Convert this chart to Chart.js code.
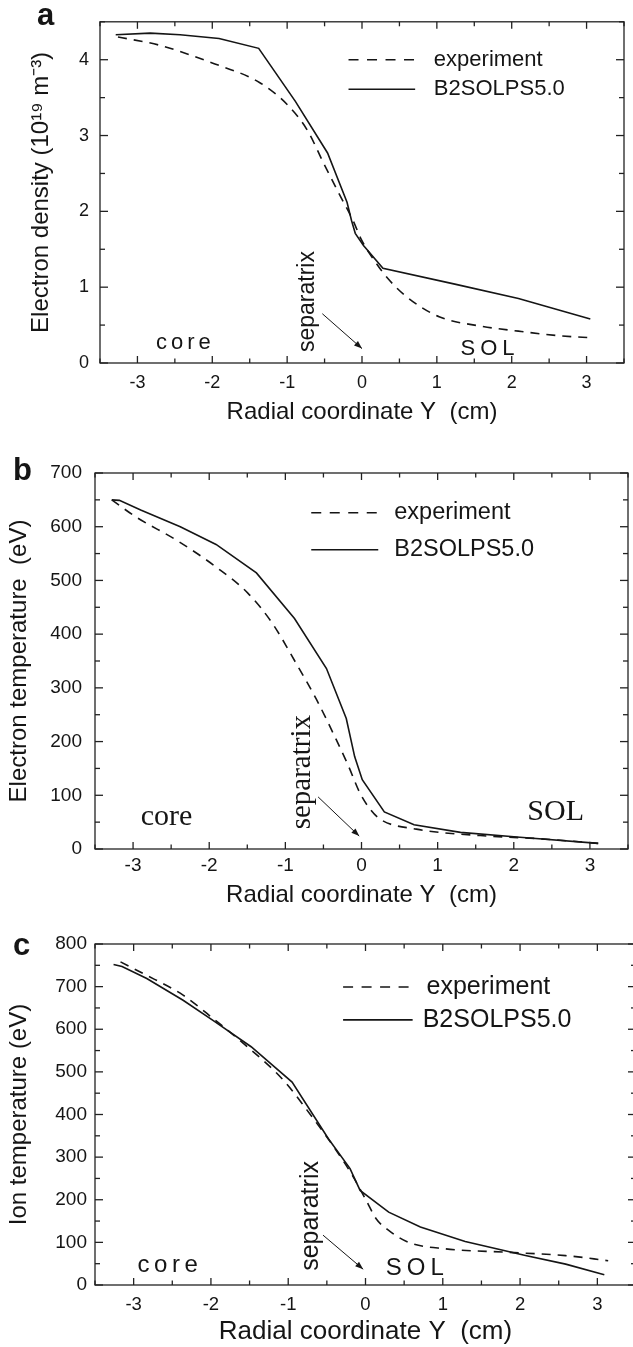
<!DOCTYPE html>
<html><head><meta charset="utf-8">
<script src="https://cdn.jsdelivr.net/npm/chart.js@4.4.1/dist/chart.umd.min.js"></script>
<style>
html,body{margin:0;padding:0;background:#fff;overflow:hidden;width:633px;height:1347px;position:relative;}
canvas{position:absolute;left:0;}
</style></head><body>
<canvas id="ca" width="633" height="450" style="top:0px"></canvas>
<canvas id="cb" width="633" height="480" style="top:440px"></canvas>
<canvas id="cc" width="645" height="427" style="top:920px"></canvas>
<script>
// ---------- data ----------
const xTickLabels = [-3, -2, -1, 0, 1, 2, 3];
const aYTickLabels = [0, 1, 2, 3, 4];
const bYTickLabels = [0, 100, 200, 300, 400, 500, 600, 700];
const cYTickLabels = [0, 100, 200, 300, 400, 500, 600, 700, 800];
const seriesNames = ['experiment', 'B2SOLPS5.0'];

// (a) electron density, 10^19 m^-3
const aExpX = [-3.26, -2.70, -2.01, -1.37, -1.00, -0.73, -0.52, -0.30, -0.12, -0.01, 0.18, 0.34, 0.60, 1.03, 1.56, 2.09, 2.63, 3.10];
const aExpY = [4.30, 4.19, 3.96, 3.70, 3.41, 3.07, 2.65, 2.22, 1.88, 1.63, 1.33, 1.12, 0.87, 0.61, 0.49, 0.42, 0.36, 0.33];
const aSimX = [-3.29, -2.83, -2.43, -1.91, -1.38, -0.89, -0.46, -0.20, -0.14, -0.09, 0.02, 0.28, 1.24, 2.09, 3.05];
const aSimY = [4.33, 4.35, 4.33, 4.28, 4.15, 3.45, 2.77, 2.12, 1.88, 1.71, 1.55, 1.25, 1.04, 0.85, 0.58];

// (b) electron temperature, eV
const bExpX = [-3.28, -2.96, -2.43, -1.91, -1.49, -1.17, -0.86, -0.59, -0.33, -0.17, -0.02, 0.12, 0.25, 0.72, 1.56, 2.35, 3.11];
const bExpY = [650, 618, 575, 525, 476, 420, 346, 278, 203, 154, 104, 73, 55, 37, 25, 19, 10.5];
const bSimX = [-3.28, -3.18, -2.90, -2.38, -1.91, -1.38, -0.88, -0.46, -0.20, -0.09, 0.01, 0.30, 0.69, 1.30, 2.08, 3.11];
const bSimY = [650, 649, 631, 600, 567, 514, 429, 336, 243, 172, 129, 69, 45, 31, 22, 10.5];

// (c) ion temperature, eV
const cExpX = [-3.17, -2.88, -2.36, -1.95, -1.58, -1.06, -0.69, -0.38, -0.17, 0.01, 0.14, 0.30, 0.56, 1.03, 1.81, 2.59, 3.14];
const cExpY = [758, 731, 680, 622, 567, 480, 394, 316, 257, 198, 155, 128, 100, 85, 77, 69, 57];
const cSimX = [-3.26, -3.15, -2.83, -2.36, -1.95, -1.48, -0.95, -0.48, -0.20, -0.07, 0.30, 0.71, 1.29, 2.07, 2.59, 3.09];
const cSimY = [752, 747, 719, 668, 618, 559, 476, 343, 273, 222, 171, 136, 102, 69, 49, 24];

// ---------- styling / layout ----------
const SANS = '"Liberation Sans", Arial, Helvetica, sans-serif';
const SERIF = '"Liberation Serif", "Times New Roman", serif';
const INK = '#151515';

function pts(xs, ys) { return xs.map((x, i) => ({x: x, y: ys[i]})); }

const panels = [
  { canvas: 'ca', w: 633, h: 450, padTop: 14, padRight: 1, yAxisW: 100, xAxisH: 87,
    yMax: 4.5, yStep: 0.5, yLabels: aYTickLabels, yTickSize: 18, yTickPad: 11,
    xTickSize: 18, xTickPad: 9, xTitleSize: 24, xTitlePadB: 23.6,
    yTitle: 'Electron density (10\u00B9\u2079 m\u207B\u00B3)', yTitleSize: 24, yTitlePadT: 27.3,
    letter: {t: 'a', x: 37, y: 25},
    exp: [aExpX, aExpY], sim: [aSimX, aSimY],
    legend: {x0: -0.18, x1: [0.71, 0.71], xt: [0.96, 0.96], rows: [4.0, 3.61], size: 22},
    notes: [
      {text: 'core', x: -2.36, y: 0.27, font: '22px ' + SANS, ls: 4},
      {text: 'separatrix', x: -0.72, y: 0.81, font: '23px ' + SANS, rot: true},
      {text: 'SOL', x: 1.71, y: 0.19, font: '22px ' + SANS, ls: 5}
    ],
    arrow: {from: [-0.53, 0.65], to: [0.0, 0.19]}
  },
  { canvas: 'cb', w: 633, h: 480, padTop: 33, padRight: 1, yAxisW: 95, xAxisH: 71,
    yMax: 700, yStep: 50, yLabels: bYTickLabels, yTickSize: 19, yTickPad: 13,
    xTickSize: 19, xTickPad: 5, xTitleSize: 24, xTitlePadB: 10.6,
    yTitle: 'Electron temperature  (eV)', yTitleSize: 24, yTitlePadT: 4.6,
    letter: {t: 'b', x: 13, y: 40},
    exp: [bExpX, bExpY], sim: [bSimX, bSimY],
    legend: {x0: -0.66, x1: [0.22, 0.22], xt: [0.43, 0.43], rows: [626, 557], size: 23.5},
    notes: [
      {text: 'core', x: -2.56, y: 60, font: '30px ' + SERIF, ls: 0},
      {text: 'separatrix', x: -0.78, y: 143, font: '29px ' + SERIF, rot: true},
      {text: 'SOL', x: 2.55, y: 68, font: '30px ' + SERIF, ls: 0}
    ],
    arrow: {from: [-0.57, 97], to: [-0.03, 24]}
  },
  { canvas: 'cc', w: 645, h: 427, padTop: 24, padRight: 6, yAxisW: 95, xAxisH: 62,
    yMax: 800, yStep: 50, yLabels: cYTickLabels, yTickSize: 19, yTickPad: 8,
    xTickSize: 18.5, xTickPad: 9, xTitleSize: 26, xTitlePadB: 0,
    yTitle: 'Ion temperature (eV)', yTitleSize: 24, yTitlePadT: 4.6,
    letter: {t: 'c', x: 13, y: 35},
    exp: [cExpX, cExpY], sim: [cSimX, cSimY],
    legend: {x0: -0.29, x1: [0.56, 0.61], xt: [0.79, 0.74], rows: [699, 622], size: 25},
    notes: [
      {text: 'core', x: -2.53, y: 47, font: '24px ' + SANS, ls: 4.5},
      {text: 'separatrix', x: -0.70, y: 162, font: '25px ' + SANS, rot: true},
      {text: 'SOL', x: 0.67, y: 40, font: '24px ' + SANS, ls: 5}
    ],
    arrow: {from: [-0.55, 117], to: [-0.03, 37]}
  }
];

function decorPlugin(cfg) {
  return {
    id: 'decor',
    afterDraw(chart) {
      const ctx = chart.ctx;
      const xs = chart.scales.x, ys = chart.scales.y;
      const {left, right, top, bottom} = chart.chartArea;
      const seg = (x1, y1, x2, y2) => { ctx.beginPath(); ctx.moveTo(x1, y1); ctx.lineTo(x2, y2); ctx.stroke(); };
      ctx.save();
      ctx.strokeStyle = '#222';
      ctx.lineWidth = 1.3;
      ctx.setLineDash([]);
      ctx.strokeRect(left, top, right - left, bottom - top);
      xs.ticks.forEach(t => {
        const px = xs.getPixelForValue(t.value);
        const L = xTickLabels.includes(t.value) ? 7 : 4.5;
        seg(px, bottom, px, bottom - L);
        seg(px, top, px, top + L);
      });
      ys.ticks.forEach(t => {
        const py = ys.getPixelForValue(t.value);
        const L = cfg.yLabels.includes(t.value) ? 8 : 5;
        seg(left, py, left + L, py);
        seg(right, py, right - L, py);
      });
      ctx.fillStyle = INK;
      ctx.strokeStyle = INK;
      ctx.lineWidth = 1.6;
      ctx.font = cfg.legend.size + 'px ' + SANS;
      ctx.textAlign = 'left';
      ctx.textBaseline = 'middle';
      chart.data.datasets.forEach((ds, i) => {
        const y = ys.getPixelForValue(cfg.legend.rows[i]);
        ctx.setLineDash(ds.borderDash && ds.borderDash.length ? [10, 8.5] : []);
        seg(xs.getPixelForValue(cfg.legend.x0), y, xs.getPixelForValue(cfg.legend.x1[i]), y);
        ctx.fillText(ds.label, xs.getPixelForValue(cfg.legend.xt[i]), y);
      });
      ctx.setLineDash([]);
      cfg.notes.forEach(n => {
        const px = xs.getPixelForValue(n.x), py = ys.getPixelForValue(n.y);
        ctx.save();
        ctx.font = n.font;
        ctx.letterSpacing = (n.ls || 0) + 'px';
        ctx.textAlign = 'center';
        ctx.textBaseline = 'middle';
        ctx.translate(px, py);
        if (n.rot) ctx.rotate(-Math.PI / 2);
        ctx.fillText(n.text, 0, 0);
        ctx.restore();
      });
      const ax1 = xs.getPixelForValue(cfg.arrow.from[0]), ay1 = ys.getPixelForValue(cfg.arrow.from[1]);
      const ax2 = xs.getPixelForValue(cfg.arrow.to[0]), ay2 = ys.getPixelForValue(cfg.arrow.to[1]);
      ctx.lineWidth = 1;
      seg(ax1, ay1, ax2, ay2);
      const ang = Math.atan2(ay2 - ay1, ax2 - ax1);
      const hl = 8, hw = 3;
      ctx.beginPath();
      ctx.moveTo(ax2, ay2);
      ctx.lineTo(ax2 - hl * Math.cos(ang) + hw * Math.sin(ang), ay2 - hl * Math.sin(ang) - hw * Math.cos(ang));
      ctx.lineTo(ax2 - hl * Math.cos(ang) - hw * Math.sin(ang), ay2 - hl * Math.sin(ang) + hw * Math.cos(ang));
      ctx.closePath();
      ctx.fill();
      ctx.font = 'bold 31px ' + SANS;
      ctx.textAlign = 'left';
      ctx.textBaseline = 'alphabetic';
      ctx.fillText(cfg.letter.t, cfg.letter.x, cfg.letter.y);
      ctx.restore();
    }
  };
}

panels.forEach(cfg => {
  const canvas = document.getElementById(cfg.canvas);
  new Chart(canvas.getContext('2d'), {
    type: 'line',
    data: {
      datasets: [
        { label: seriesNames[0], data: pts(cfg.exp[0], cfg.exp[1]), borderColor: INK, borderWidth: 1.6,
          borderDash: [9, 7], pointRadius: 0, fill: false, cubicInterpolationMode: 'monotone' },
        { label: seriesNames[1], data: pts(cfg.sim[0], cfg.sim[1]), borderColor: INK, borderWidth: 1.6,
          pointRadius: 0, fill: false, tension: 0 }
      ]
    },
    options: {
      responsive: false,
      animation: false,
      devicePixelRatio: 1,
      layout: { padding: { top: cfg.padTop, right: cfg.padRight, bottom: 0, left: 0 } },
      plugins: { legend: { display: false }, tooltip: { enabled: false } },
      scales: {
        x: {
          type: 'linear', min: -3.5, max: 3.5,
          afterFit: s => { s.height = cfg.xAxisH; },
          grid: { display: false, drawTicks: false },
          border: { display: false },
          ticks: {
            stepSize: 0.5, autoSkip: false, maxRotation: 0, padding: cfg.xTickPad, color: INK,
            font: { family: SANS, size: cfg.xTickSize },
            callback: v => xTickLabels.includes(v) ? String(v) : ''
          },
          title: {
            display: true, text: 'Radial coordinate Y  (cm)', color: INK,
            font: { family: SANS, size: cfg.xTitleSize },
            padding: { top: 0, bottom: cfg.xTitlePadB }
          }
        },
        y: {
          type: 'linear', min: 0, max: cfg.yMax,
          afterFit: s => { s.width = cfg.yAxisW; },
          grid: { display: false, drawTicks: false },
          border: { display: false },
          ticks: {
            stepSize: cfg.yStep, autoSkip: false, padding: cfg.yTickPad, color: INK,
            font: { family: SANS, size: cfg.yTickSize },
            callback: v => cfg.yLabels.includes(v) ? String(v) : ''
          },
          title: {
            display: true, text: cfg.yTitle, color: INK,
            font: { family: SANS, size: cfg.yTitleSize },
            padding: { top: cfg.yTitlePadT, bottom: 0 }
          }
        }
      }
    },
    plugins: [decorPlugin(cfg)]
  });
});
</script>
</body></html>
